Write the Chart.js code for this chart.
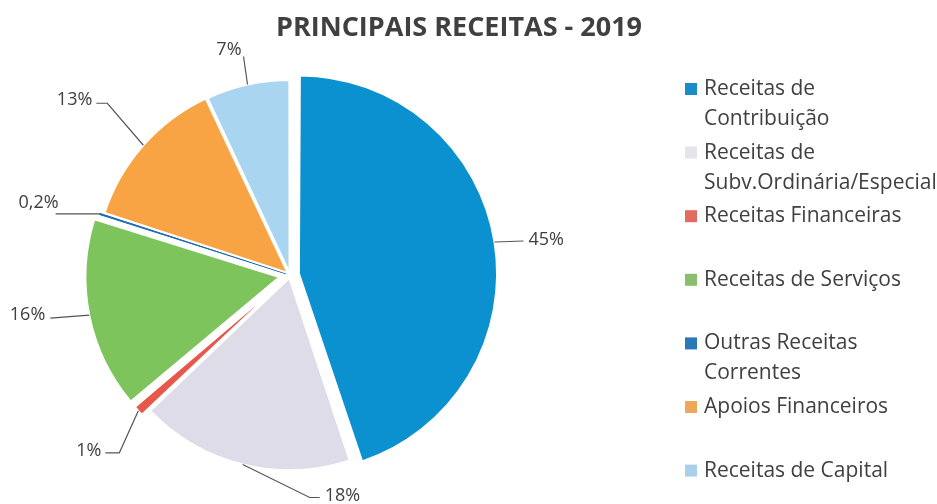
<!DOCTYPE html>
<html>
<head>
<meta charset="utf-8">
<script src="https://cdn.jsdelivr.net/npm/chart.js@4.4.0/dist/chart.umd.min.js"></script>
<style>
  html, body { margin: 0; padding: 0; background: #fff; }
  canvas { display: block; }
</style>
</head>
<body>
<canvas id="myChart" width="937" height="504"></canvas>
<script>
const chartTitle = 'PRINCIPAIS RECEITAS - 2019';

const categories = [
  ['Receitas de', 'Contribuição'],
  ['Receitas de', 'Subv.Ordinária/Especial'],
  ['Receitas Financeiras'],
  ['Receitas de Serviços'],
  ['Outras Receitas', 'Correntes'],
  ['Apoios Financeiros'],
  ['Receitas de Capital']
];

// percentage of total revenue
const shares = [45, 18, 1, 16, 0.2, 13, 7];

const sliceColors = ['#0b91cf', '#dddce8', '#e8574c', '#7dc45c', '#1c6fb0', '#f8a444', '#a9d5f1'];
const legendColors = ['#1a8cc8', '#e4e4ea', '#e26a60', '#8bbd6e', '#2a78b8', '#eea85a', '#a9d0ea'];

// how far each slice is pulled out (chart.js divides offset by 4)
const sliceOffsets = [36, 12, 24, 44, 16, 12, 8];

// leader line bends, relative to where the line leaves the slice
const leaders = [
  { path: [[29, -1]], text: [5, -1], align: 'left' },
  { path: [[67, 33], [77, 33]], text: [5, -2], align: 'left' },
  { path: [[-19, 42], [-33, 42]], text: [-4, -2], align: 'right' },
  { path: [[-39, 3]], text: [-5, -3], align: 'right' },
  { path: [[-44, 0]], text: [3, -11], align: 'right' },
  { path: [[-36, -42], [-47, -42]], text: [-4, -3], align: 'right' },
  { path: [[-4, -28]], text: [-2, -7], align: 'right' }
];

const textColor = '#404040';
const fontFamily = '"Open Sans", "DejaVu Sans", sans-serif';

function pct(v) {
  return String(v).replace('.', ',') + '%';
}

const pieDecor = {
  id: 'pieDecor',
  afterDraw(chart) {
    const ctx = chart.ctx;
    const arcs = chart.getDatasetMeta(0).data;

    // title
    ctx.save();
    ctx.fillStyle = textColor;
    ctx.font = 'bold 27px ' + fontFamily;
    ctx.textAlign = 'center';
    ctx.textBaseline = 'middle';
    ctx.fillText(chartTitle, 459, 28);
    ctx.restore();

    // value labels with leader lines
    ctx.save();
    ctx.strokeStyle = '#555555';
    ctx.lineWidth = 1.2;
    ctx.fillStyle = textColor;
    ctx.font = '18px ' + fontFamily;
    ctx.textBaseline = 'middle';
    arcs.forEach((arc, i) => {
      const p = arc.getProps(['x', 'y', 'startAngle', 'endAngle', 'outerRadius', 'circumference'], true);
      const mid = (p.startAngle + p.endAngle) / 2;
      const shift = (arc.options.offset || 0) / 4;
      // offset arcs are also drawn a little wider
      const grow = shift * (1 - Math.sin(Math.min(Math.PI, p.circumference)));
      const ax = p.x + Math.cos(mid) * (p.outerRadius + shift + grow);
      const ay = p.y + Math.sin(mid) * (p.outerRadius + shift + grow);
      const lead = leaders[i];
      ctx.beginPath();
      ctx.moveTo(ax, ay);
      let ex = ax, ey = ay;
      lead.path.forEach(([dx, dy]) => {
        ex = ax + dx;
        ey = ay + dy;
        ctx.lineTo(ex, ey);
      });
      ctx.stroke();
      ctx.textAlign = lead.align;
      ctx.fillText(pct(shares[i]), ex + lead.text[0], ey + lead.text[1]);
    });
    ctx.restore();

    // legend
    ctx.save();
    ctx.font = '21px ' + fontFamily;
    ctx.textBaseline = 'middle';
    ctx.textAlign = 'left';
    categories.forEach((lines, i) => {
      const y = 89 + i * 63.6;
      ctx.fillStyle = legendColors[i];
      ctx.fillRect(685, y - 6, 12, 12);
      ctx.fillStyle = textColor;
      lines.forEach((t, j) => ctx.fillText(t, 704, y + j * 30));
    });
    ctx.restore();
  }
};

const data = {
  labels: categories.map(c => c.join(' ')),
  datasets: [{
    data: shares,
    backgroundColor: sliceColors,
    borderColor: ['#fff', '#fff', '#fff', '#fff', '#1c6fb0', '#fff', '#fff'],
    borderWidth: [2, 2, 2, 2, 1, 2, 2],
    offset: sliceOffsets
  }]
};

const config = {
  type: 'pie',
  data: data,
  options: {
    responsive: false,
    animation: false,
    radius: 192,
    layout: { padding: { left: 0, right: 357, top: 50, bottom: 4 } },
    plugins: {
      legend: { display: false },
      tooltip: { enabled: false }
    }
  },
  plugins: [pieDecor]
};

const myChart = new Chart(document.getElementById('myChart'), config);
</script>
</body>
</html>
